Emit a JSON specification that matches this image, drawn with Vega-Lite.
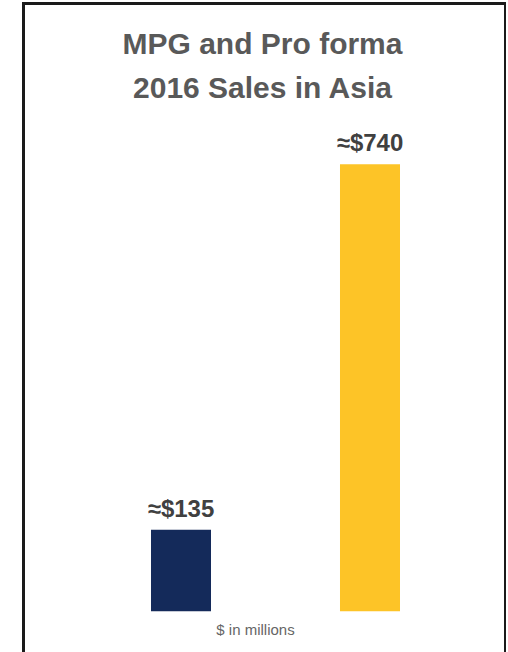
{
  "$schema": "https://vega.github.io/schema/vega-lite/v6.json",
  "width": 482,
  "height": 698.4,
  "autosize": {"type": "none"},
  "padding": {"left": 23.5, "top": 3.5, "right": 0, "bottom": 0},
  "background": "white",
  "config": {
    "view": {"stroke": "#1a1a1a", "strokeWidth": 3},
    "font": "Liberation Sans"
  },
  "title": {
    "text": ["MPG and Pro forma", "2016 Sales in Asia"],
    "fontSize": 30,
    "fontWeight": "bold",
    "color": "#595959",
    "lineHeight": 44,
    "anchor": "middle",
    "frame": "group",
    "offset": -101,
    "dx": -2,
    "font": "Liberation Sans"
  },
  "data": {
    "values": [
      {"company": "MPG", "sales": 135, "label": "≈$135"},
      {"company": "Pro forma", "sales": 740, "label": "≈$740"}
    ]
  },
  "encoding": {
    "x": {
      "field": "company",
      "type": "nominal",
      "sort": null,
      "scale": {"paddingInner": 0.6825, "paddingOuter": 0.6164, "align": 0.5472},
      "axis": {
        "title": "$ in millions",
        "labels": false,
        "ticks": false,
        "domain": false,
        "grid": false,
        "titleX": 231.5,
        "titleY": -67,
        "titleAlign": "center",
        "titleBaseline": "alphabetic",
        "titleFontSize": 15,
        "titleFontWeight": "normal",
        "titleColor": "#666666"
      }
    },
    "y": {
      "field": "sales",
      "type": "quantitative",
      "scale": {"domain": [-150, 1006], "nice": false, "zero": false},
      "axis": null
    }
  },
  "layer": [
    {
      "mark": {"type": "bar"},
      "encoding": {
        "color": {
          "field": "company",
          "type": "nominal",
          "sort": null,
          "scale": {"range": ["#142a5a", "#fdc427"]},
          "legend": null
        }
      }
    },
    {
      "mark": {
        "type": "text",
        "dy": -13,
        "fontSize": 24,
        "fontWeight": "bold",
        "color": "#404040",
        "baseline": "alphabetic"
      },
      "encoding": {"text": {"field": "label"}}
    }
  ]
}
